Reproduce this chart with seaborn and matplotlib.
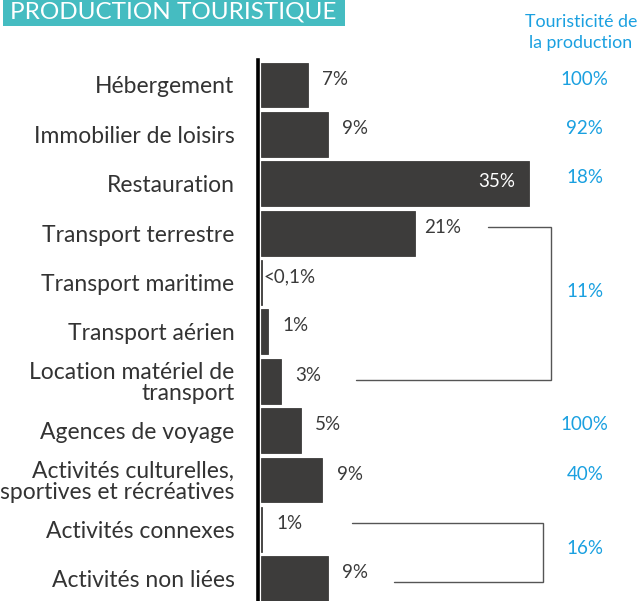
import matplotlib
matplotlib.use("Agg")
import matplotlib.pyplot as plt
import seaborn as sns
import pandas as pd
from matplotlib.patches import Rectangle

categories = ["Hébergement", "Immobilier de loisirs", "Restauration", "Transport terrestre",
              "Transport maritime", "Transport aérien", "Location matériel de\ntransport",
              "Agences de voyage", "Activités culturelles,\nsportives et récréatives",
              "Activités connexes", "Activités non liées"]
bar_values = [6.1, 8.7, 35.0, 20.1, 0.08, 0.9, 2.6, 5.2, 8.0, 0.1, 8.7]
value_labels = ["7%", "9%", "35%", "21%", "<0,1%", "1%", "3%", "5%", "9%", "1%", "9%"]
touristicite_rows = [0, 1, 2, 4.3, 7, 8, 9.5]
touristicite_labels = ["100%", "92%", "18%", "11%", "100%", "40%", "16%"]

sns.set_theme(style="white")
plt.rcParams["font.family"] = ["Lato", "DejaVu Sans"]

df = pd.DataFrame({"cat": categories, "val": bar_values})

fig = plt.figure(figsize=(6.43, 6.01), dpi=100)
ax = fig.add_axes([258 / 643, 0, 1 - 258 / 643, 1 - 60 / 601])
sns.barplot(data=df, y="cat", x="val", orient="h", color="#3d3c3b", saturation=1,
            width=0.91, ax=ax, edgecolor="#3d3c3b", linewidth=0.6)

ax.set_xlim(-0.4, 49.9)
ax.set_ylim(10.45, -0.506)
ax.set_xlabel("")
ax.set_ylabel("")
ax.set_xticks([])
for s in ["top", "right", "bottom"]:
    ax.spines[s].set_visible(False)
ax.spines["left"].set_linewidth(2.6)
ax.spines["left"].set_color("black")
ax.tick_params(axis="y", length=0, pad=17)
ax.set_yticks(range(len(categories)))
ax.set_yticklabels(categories, fontsize=16.5, color="#333333", ha="right",
                   linespacing=1.0)

dark = "#3a3a3a"
for i, (v, lab) in enumerate(zip(bar_values, value_labels)):
    if v > 30:
        ax.text(v - 4.2, i - 0.05, lab, ha="center", va="center", color="white", fontsize=13.5)
    else:
        ax.text(v + 3.6, i - 0.12, lab, ha="center", va="center", color=dark, fontsize=13.5)

blue = "#1aa0e0"
for r, lab in zip(touristicite_rows, touristicite_labels):
    ax.text(42.3, r - 0.12, lab, ha="center", va="center", color=blue, fontsize=13.5)

# brackets
def bracket(r0, r1, x_start0, x_start1, x_v):
    y0 = r0 - 0.13
    y1 = r1 - 0.03 if r1 < 10 else r1 + 0.06
    ax.plot([x_start0, x_v, x_v, x_start1], [y0, y0, y1, y1], color="#555555",
            lw=1.0, clip_on=False, solid_joinstyle="miter")

bracket(3, 6, 29.6, 12.4, 37.9)
bracket(9, 10, 11.9, 17.4, 36.9)

# header
fig.patches.append(Rectangle((3 / 643, 1 - 26 / 601), 342 / 643, 26 / 601,
                             transform=fig.transFigure, facecolor="#45bcc1",
                             edgecolor="none", zorder=0))
fig.text(10 / 643, 1 - 19 / 601, "PRODUCTION TOURISTIQUE", color="white", fontsize=17.5,
         ha="left", va="baseline")
fig.text(581 / 643, 1 - 22 / 601, "Touristicité de", color=blue, fontsize=12.8,
         ha="center", va="center")
fig.text(581 / 643, 1 - 43 / 601, "la production", color=blue, fontsize=12.8,
         ha="center", va="center")

fig.savefig("out.png", dpi=100)
